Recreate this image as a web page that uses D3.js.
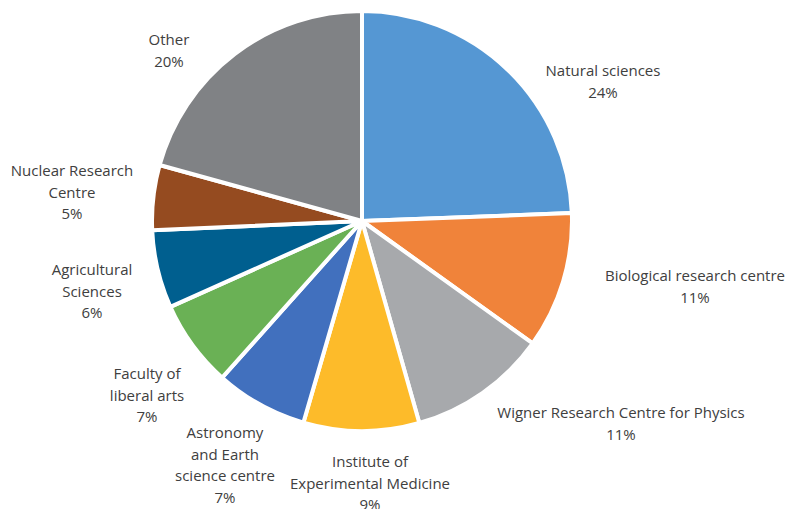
<!DOCTYPE html>
<html><head><meta charset="utf-8">
<script src="https://cdn.jsdelivr.net/npm/d3@7"></script>
<style>html,body{margin:0;padding:0;background:#fff;}svg{display:block;}</style>
</head><body>
<svg id="c" width="789" height="509"></svg>
<script>
const categories = ["Natural sciences","Biological research centre","Wigner Research Centre for Physics","Institute of Experimental Medicine","Astronomy and Earth science centre","Faculty of liberal arts","Agricultural Sciences","Nuclear Research Centre","Other"];
const values = [24.4, 10.5, 10.7, 8.9, 7.1, 6.7, 6.0, 5.0, 20.7];
const percentLabels = ["24%","11%","11%","9%","7%","7%","6%","5%","20%"];
const labelLines = [["Natural sciences"],["Biological research centre"],["Wigner Research Centre for Physics"],["Institute of","Experimental Medicine"],["Astronomy","and Earth","science centre"],["Faculty of","liberal arts"],["Agricultural","Sciences"],["Nuclear Research","Centre"],["Other"]];
const colors = ["#5597d3","#f0833a","#a7a9ac","#fdbb2a","#4170be","#6ab155","#005f8f","#954b20","#808285"];
const labelPos = [[603,71],[695,276],[621,413],[370,462],[225,433],[147,374],[92,270],[72,171],[169,40]];

const svg = d3.select("#c");
const cx = 362, cy = 221, r = 210;
const pie = d3.pie().sort(null).value(d=>d)(values);
const arc = d3.arc().innerRadius(0).outerRadius(r);
const g = svg.append("g").attr("transform",`translate(${cx},${cy})`);
g.selectAll("path").data(pie).join("path")
  .attr("d",arc).attr("fill",(d,i)=>colors[i])
  .attr("stroke","#fff").attr("stroke-width",4).attr("stroke-linejoin","round");

const lg = svg.append("g").attr("font-family","'Open Sans', sans-serif").attr("font-size",15).attr("fill","#404040").attr("text-anchor","middle");
categories.forEach((c,i)=>{
  const lines = labelLines[i].concat([percentLabels[i]]);
  const t = lg.append("text").attr("x",labelPos[i][0]).attr("y",labelPos[i][1]+5);
  lines.forEach((l,j)=>t.append("tspan").attr("x",labelPos[i][0]).attr("dy",j===0?0:21.5).text(l));
});
</script>
</body></html>
